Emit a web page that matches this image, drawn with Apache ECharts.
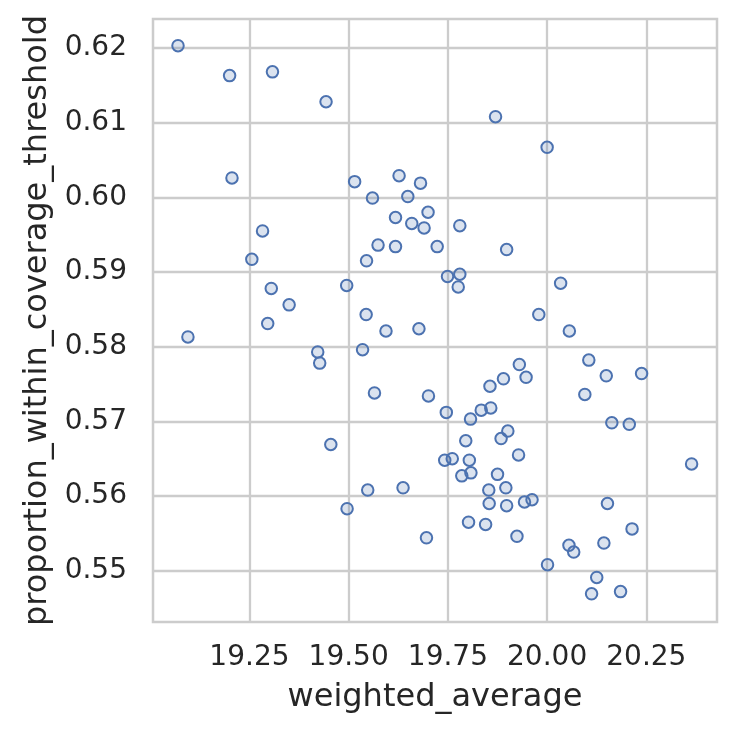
<!DOCTYPE html>
<html>
<head>
<meta charset="utf-8">
<script src="https://cdn.jsdelivr.net/npm/echarts@6/dist/echarts.min.js"></script>
<style>
  html, body { margin: 0; padding: 0; background: #fff; }
  #chart { width: 737px; height: 737px; }
</style>
</head>
<body>
<div id="chart"></div>
<script>
// datos
const weightedAverage = [
  19.070, 19.200, 19.308, 19.443, 19.206, 19.515, 19.627, 19.681, 19.560, 19.649,
  19.700, 19.618, 19.659, 19.690, 19.723, 19.574, 19.618, 19.545, 19.283, 19.256,
  19.305, 19.350, 19.495, 19.544, 19.870, 20.000, 19.780, 19.898, 19.749, 19.780,
  19.776, 20.034, 19.979, 19.095, 19.296, 19.594, 19.677, 19.422, 19.427, 19.535,
  19.565, 19.701, 19.455, 19.548, 19.637, 19.496, 19.696, 20.056, 20.105, 20.149,
  20.238, 20.095, 20.163, 20.207, 20.364, 19.930, 19.890, 19.947, 19.856, 19.746,
  19.807, 19.834, 19.858, 19.901, 19.884, 19.795, 19.928, 19.742, 19.761, 19.804,
  19.785, 19.808, 19.875, 19.896, 19.853, 19.854, 19.898, 19.943, 19.962, 20.152,
  19.802, 19.845, 19.924, 20.214, 20.143, 20.055, 20.067, 20.001, 20.125, 20.112,
  20.185
];
const proportionWithin = [
  0.6203, 0.6163, 0.6168, 0.6128, 0.6026, 0.6021, 0.6029, 0.6019, 0.5999, 0.6001,
  0.5980, 0.5973, 0.5965, 0.5959, 0.5934, 0.5936, 0.5934, 0.5915, 0.5955, 0.5917,
  0.5878, 0.5856, 0.5882, 0.5843, 0.6108, 0.6067, 0.5962, 0.5930, 0.5894, 0.5897,
  0.5880, 0.5885, 0.5843, 0.5813, 0.5831, 0.5821, 0.5824, 0.5793, 0.5778, 0.5796,
  0.5738, 0.5734, 0.5669, 0.5608, 0.5611, 0.5583, 0.5544, 0.5821, 0.5782, 0.5761,
  0.5764, 0.5736, 0.5698, 0.5696, 0.5643, 0.5776, 0.5757, 0.5759, 0.5747, 0.5712,
  0.5703, 0.5715, 0.5718, 0.5687, 0.5677, 0.5674, 0.5655, 0.5648, 0.5650, 0.5648,
  0.5627, 0.5631, 0.5629, 0.5611, 0.5608, 0.5590, 0.5587, 0.5592, 0.5595, 0.5590,
  0.5565, 0.5562, 0.5546, 0.5556, 0.5537, 0.5534, 0.5525, 0.5508, 0.5491, 0.5469,
  0.5472
];
const xTicks = [19.25, 19.5, 19.75, 20.0, 20.25];
const yTicks = [0.55, 0.56, 0.57, 0.58, 0.59, 0.60, 0.61, 0.62];

const puntos = weightedAverage.map((x, i) => [x, proportionWithin[i]]);

const gris = '#cccccc';
const texto = '#262626';
const fuente = 'DejaVu Sans';

const option = {
  backgroundColor: '#ffffff',
  animation: false,
  grid: {
    left: 153, right: 20, top: 19, bottom: 115,
    show: true, borderColor: gris, borderWidth: 2.5, backgroundColor: 'transparent'
  },
  xAxis: {
    type: 'value',
    min: 19.007, max: 20.428,
    name: 'weighted_average',
    nameLocation: 'middle',
    nameGap: 60,
    nameTextStyle: { fontFamily: fuente, fontSize: 32, color: texto },
    axisLine: { show: false },
    axisTick: { show: false, customValues: xTicks },
    axisLabel: {
      customValues: xTicks,
      fontFamily: fuente, fontSize: 28, color: texto, margin: 22,
      formatter: v => v.toFixed(2)
    },
    splitLine: { show: true, lineStyle: { color: gris, width: 2.3 } }
  },
  yAxis: {
    type: 'value',
    min: 0.54313, max: 0.62388,
    name: 'proportion_within_coverage_threshold',
    nameLocation: 'middle',
    nameGap: 96,
    nameTextStyle: { fontFamily: fuente, fontSize: 32, color: texto },
    axisLine: { show: false },
    axisTick: { show: false, customValues: yTicks },
    axisLabel: {
      customValues: yTicks,
      fontFamily: fuente, fontSize: 28, color: texto, margin: 26,
      formatter: v => v.toFixed(2)
    },
    splitLine: { show: true, lineStyle: { color: gris, width: 2.3 } }
  },
  series: [
    {
      type: 'scatter',
      data: puntos,
      symbol: 'circle',
      symbolSize: 11.5,
      itemStyle: {
        color: 'rgba(76,114,176,0.2)',
        borderColor: '#4c72b0',
        borderWidth: 2,
        opacity: 1
      }
    }
  ]
};

const miGrafico = echarts.init(document.getElementById('chart'));
miGrafico.setOption(option);
</script>
</body>
</html>
